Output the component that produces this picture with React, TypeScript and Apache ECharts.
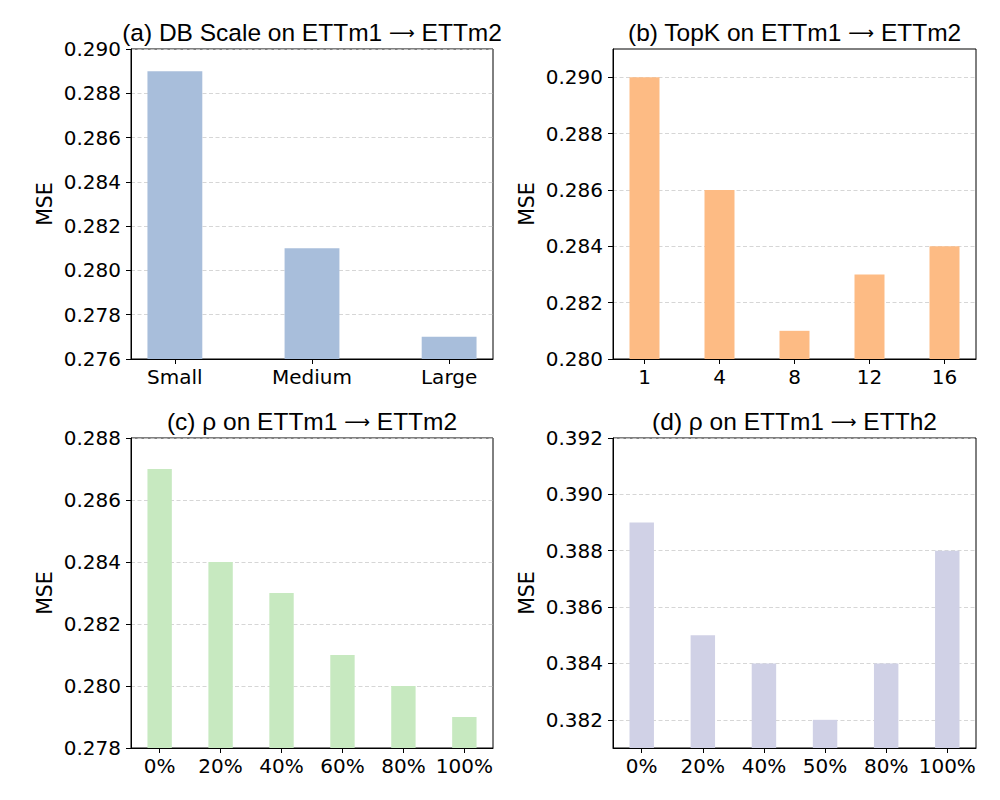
import React, { useEffect, useRef } from "react";
import * as echarts from "echarts";

// ---- data ----
const titles = [
  "(a) DB Scale on ETTm1 {arr|⟶} ETTm2",
  "(b) TopK on ETTm1 {arr|⟶} ETTm2",
  "(c) ρ on ETTm1 {arr|⟶} ETTm2",
  "(d) ρ on ETTm1 {arr|⟶} ETTh2",
];
const catsA = ["Small", "Medium", "Large"];
const valsA = [0.289, 0.281, 0.277];
const catsB = ["1", "4", "8", "12", "16"];
const valsB = [0.29, 0.286, 0.281, 0.283, 0.284];
const catsC = ["0%", "20%", "40%", "60%", "80%", "100%"];
const valsC = [0.287, 0.284, 0.283, 0.281, 0.28, 0.279];
const catsD = ["0%", "20%", "40%", "50%", "80%", "100%"];
const valsD = [0.389, 0.385, 0.384, 0.382, 0.384, 0.388];

const ticksA = [0.276, 0.278, 0.28, 0.282, 0.284, 0.286, 0.288, 0.29];
const ticksB = [0.28, 0.282, 0.284, 0.286, 0.288, 0.29];
const ticksC = [0.278, 0.28, 0.282, 0.284, 0.286, 0.288];
const ticksD = [0.382, 0.384, 0.386, 0.388, 0.39, 0.392];

const yRanges = [
  [0.276, 0.29],
  [0.28, 0.291],
  [0.278, 0.288],
  [0.381, 0.392],
];
const colors = ["#a8bedb", "#fdbb84", "#c7e9c0", "#d0d1e6"];

const panels = [
  { cats: catsA, vals: valsA, ticks: ticksA },
  { cats: catsB, vals: valsB, ticks: ticksB },
  { cats: catsC, vals: valsC, ticks: ticksC },
  { cats: catsD, vals: valsD, ticks: ticksD },
];

// layout (pixels)
const gridBoxes = [
  { left: 131, top: 49, width: 362, height: 310 },
  { left: 613, top: 49, width: 363, height: 310 },
  { left: 131, top: 438, width: 362, height: 310 },
  { left: 613, top: 438, width: 363, height: 310 },
];
const titleTops = [19.5, 19.5, 409, 409];

const TICK_FONT = "DejaVu Sans";
const TITLE_FONT = "Liberation Sans";

export default function App() {
  const ref = useRef<HTMLDivElement>(null);
  useEffect(() => {
    if (!ref.current) return;
    const chart = echarts.init(ref.current, null, { renderer: "svg" });
    const grid: any[] = [];
    const xAxis: any[] = [];
    const yAxis: any[] = [];
    const series: any[] = [];
    const title: any[] = [];
    panels.forEach((p, i) => {
      const g = gridBoxes[i];
      const n = p.cats.length;
      const pad = 0.2 + 0.05 * (n - 1 + 0.4);
      const xmin = -pad;
      const xmax = n - 1 + pad;
      const barW = (g.width * 0.4) / (xmax - xmin);
      const idx = p.cats.map((_, k) => k);
      grid.push({
        ...g,
        show: true,
        borderColor: "#000",
        borderWidth: 1,
        backgroundColor: "transparent",
        containLabel: false,
      });
      title.push({
        text: titles[i],
        left: g.left + g.width / 2,
        top: titleTops[i],
        textAlign: "center",
        padding: 0,
        textStyle: {
          fontFamily: TITLE_FONT,
          fontSize: 24.5,
          fontWeight: "normal",
          color: "#000",
          rich: {
            arr: {
              fontFamily: "DejaVu Sans",
              fontSize: 18,
              color: "#000",
            },
          },
        },
      });
      xAxis.push({
        type: "value",
        gridIndex: i,
        min: xmin,
        max: xmax,
        axisLine: { show: true, onZero: false, lineStyle: { color: "#000", width: 1 } },
        axisTick: {
          show: true,
          length: 5,
          customValues: idx,
          lineStyle: { color: "#000", width: 1 },
        },
        axisLabel: {
          customValues: idx,
          formatter: (v: number) => p.cats[Math.round(v)] ?? "",
          fontFamily: TICK_FONT,
          fontSize: 20,
          color: "#000",
          margin: 8,
        },
        splitLine: { show: false },
      });
      yAxis.push({
        type: "value",
        gridIndex: i,
        min: yRanges[i][0],
        max: yRanges[i][1],
        name: "MSE",
        nameLocation: "middle",
        nameGap: 76,
        nameTextStyle: { fontFamily: TICK_FONT, fontSize: 20.5, color: "#000" },
        axisLine: { show: true, onZero: false, lineStyle: { color: "#000", width: 1 } },
        axisTick: {
          show: true,
          length: 5,
          customValues: p.ticks,
          lineStyle: { color: "#000", width: 1 },
        },
        axisLabel: {
          customValues: p.ticks,
          formatter: (v: number) => v.toFixed(3),
          fontFamily: TICK_FONT,
          fontSize: 20,
          color: "#000",
          margin: 10,
        },
        splitLine: {
          show: true,
          lineStyle: { color: "#cccccc", width: 0.8, type: [4, 2.5] },
        },
      });
      series.push({
        type: "bar",
        xAxisIndex: i,
        yAxisIndex: i,
        barWidth: barW,
        clip: true,
        itemStyle: { color: colors[i] },
        data: p.vals.map((v, k) => [k, v]),
      });
    });
    chart.setOption({
      animation: false,
      backgroundColor: "#fff",
      title,
      grid,
      xAxis,
      yAxis,
      series,
    });
    return () => chart.dispose();
  }, []);
  return (
    <div
      ref={ref}
      style={{ position: "absolute", left: 0, top: 0, width: 1000, height: 800 }}
    />
  );
}
